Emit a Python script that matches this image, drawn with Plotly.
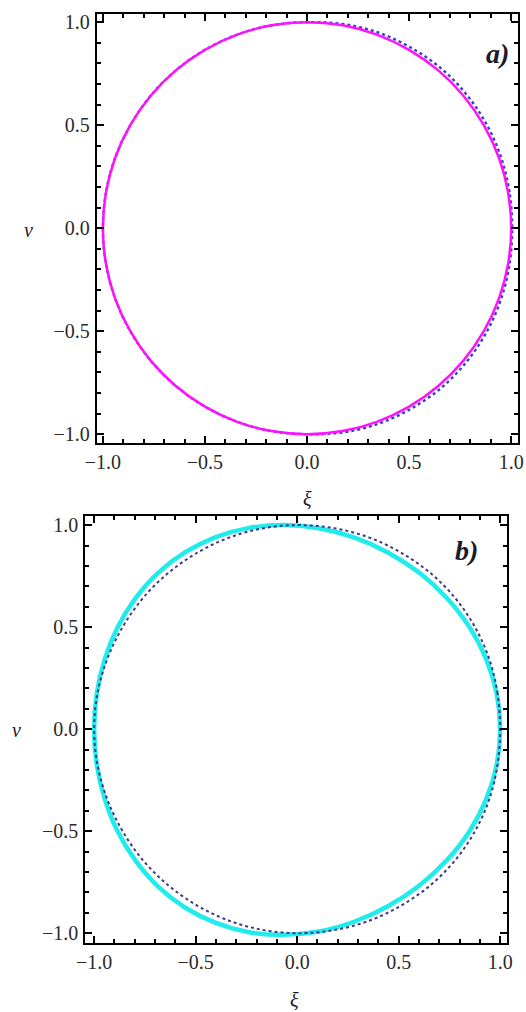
import plotly.graph_objects as go

# panel a) - solid magenta curve and dotted blue reference circle
a_solid_xi = [1.000, 0.985, 0.940, 0.866, 0.766, 0.643, 0.500, 0.342, 0.174, 0.000, -0.174, -0.342, -0.500, -0.643, -0.766, -0.866, -0.940, -0.985, -1.000,
              -0.985, -0.940, -0.866, -0.766, -0.643, -0.500, -0.342, -0.174, 0.000, 0.174, 0.342, 0.500, 0.643, 0.766, 0.866, 0.940, 0.985, 1.000]
a_solid_v = [0.000, 0.174, 0.342, 0.500, 0.643, 0.766, 0.866, 0.940, 0.985, 1.000, 0.985, 0.940, 0.866, 0.766, 0.643, 0.500, 0.342, 0.174, 0.000,
             -0.174, -0.342, -0.500, -0.643, -0.766, -0.866, -0.940, -0.985, -1.000, -0.985, -0.940, -0.866, -0.766, -0.643, -0.500, -0.342, -0.174, 0.000]
a_dot_xi = [1.005, 0.992, 0.950, 0.878, 0.778, 0.654, 0.508, 0.348, 0.177, 0.000, -0.174, -0.342, -0.500, -0.643, -0.766, -0.866, -0.940, -0.985, -1.000,
            -0.985, -0.940, -0.866, -0.766, -0.643, -0.500, -0.342, -0.174, 0.000, 0.177, 0.348, 0.508, 0.654, 0.778, 0.878, 0.950, 0.992, 1.005]
a_dot_v = [0.000, 0.175, 0.346, 0.507, 0.653, 0.778, 0.877, 0.950, 0.991, 1.000, 0.985, 0.940, 0.866, 0.766, 0.643, 0.500, 0.342, 0.174, 0.000,
           -0.174, -0.342, -0.500, -0.643, -0.766, -0.866, -0.940, -0.985, -1.000, -0.991, -0.950, -0.877, -0.778, -0.653, -0.507, -0.346, -0.175, 0.000]

# panel b) - thick cyan curve and dotted dark blue circle
b_solid_xi = [1.000, 0.983, 0.932, 0.849, 0.737, 0.602, 0.447, 0.280, 0.106, -0.070, -0.242, -0.404, -0.553, -0.685, -0.795, -0.884, -0.948, -0.987, -1.000,
              -0.987, -0.948, -0.884, -0.795, -0.685, -0.553, -0.404, -0.242, -0.070, 0.106, 0.280, 0.447, 0.602, 0.737, 0.849, 0.932, 0.983, 1.000]
b_solid_v = [0.000, 0.174, 0.342, 0.500, 0.643, 0.766, 0.866, 0.940, 0.985, 1.000, 0.985, 0.940, 0.866, 0.766, 0.643, 0.500, 0.342, 0.174, 0.000,
             -0.174, -0.342, -0.502, -0.646, -0.772, -0.874, -0.948, -0.994, -1.008, -0.992, -0.944, -0.868, -0.766, -0.643, -0.500, -0.342, -0.174, 0.000]
b_dot_xi = [1.000, 0.987, 0.947, 0.876, 0.778, 0.655, 0.510, 0.352, 0.182, 0.008, -0.164, -0.332, -0.490, -0.634, -0.759, -0.860, -0.936, -0.984, -1.000,
            -0.984, -0.936, -0.860, -0.759, -0.634, -0.490, -0.332, -0.164, 0.008, 0.182, 0.352, 0.510, 0.655, 0.778, 0.876, 0.947, 0.987, 1.000]
b_dot_v = [0.000, 0.174, 0.342, 0.500, 0.643, 0.766, 0.866, 0.940, 0.985, 1.000, 0.985, 0.940, 0.866, 0.766, 0.643, 0.500, 0.342, 0.174, 0.000,
           -0.174, -0.342, -0.500, -0.643, -0.766, -0.866, -0.940, -0.985, -1.000, -0.985, -0.940, -0.866, -0.766, -0.643, -0.500, -0.342, -0.174, 0.000]

tick_vals = [-1.0, -0.5, 0.0, 0.5, 1.0]
tick_text = ["\u22121.0", "\u22120.5", "0.0", "0.5", "1.0"]

serif = "Liberation Serif"

fig = go.Figure()

fig.add_trace(go.Scatter(x=a_dot_xi, y=a_dot_v, mode="lines", line=dict(color="#3b3bd6", width=2.4, dash="dot", shape="spline"),
                         xaxis="x", yaxis="y", showlegend=False))
fig.add_trace(go.Scatter(x=a_solid_xi, y=a_solid_v, mode="lines", line=dict(color="#ff10ff", width=2.5, shape="spline"),
                         xaxis="x", yaxis="y", showlegend=False))
fig.add_trace(go.Scatter(x=b_solid_xi, y=b_solid_v, mode="lines", line=dict(color="#20ecec", width=4.5, shape="spline"),
                         xaxis="x2", yaxis="y2", showlegend=False))
fig.add_trace(go.Scatter(x=b_dot_xi, y=b_dot_v, mode="lines", line=dict(color="#3d3a8a", width=2, dash="dot", shape="spline"),
                         xaxis="x2", yaxis="y2", showlegend=False))


def axis_style(rng, domain, anchor, standoff):
    return dict(range=rng, domain=domain, anchor=anchor, automargin=False,
                showline=True, linecolor="black", linewidth=2, mirror="allticks",
                showgrid=False, zeroline=False,
                ticks="inside", ticklen=7, tickwidth=2, tickcolor="black",
                tickvals=tick_vals, ticktext=tick_text,
                tickfont=dict(family=serif, size=20, color="#2a2a2a"),
                ticklabelstandoff=standoff,
                minor=dict(ticks="inside", ticklen=4, tickwidth=1.5, tickcolor="black", dtick=0.1, tick0=0, showgrid=False))


fig.update_layout(
    width=526, height=1012,
    margin=dict(l=0, r=0, t=0, b=0),
    paper_bgcolor="white", plot_bgcolor="white",
    xaxis=axis_style([-1.03, 1.034], [0.184, 0.985], "y", 0),
    yaxis=axis_style([-1.044, 1.039], [0.562, 0.986], "x", 1),
    xaxis2=axis_style([-1.044, 1.034], [0.162, 0.964], "y2", 0),
    yaxis2=axis_style([-1.049, 1.044], [0.068, 0.490], "x2", 1),
)

labels = [
    ("v", 28, 230, 20, "italic", "normal"),
    ("\u03be", 307, 499, 20, "italic", "normal"),
    ("v", 16, 730, 20, "italic", "normal"),
    ("\u03be", 294, 1000, 20, "italic", "normal"),
    ("a)", 497, 53, 28, "italic", "bold"),
    ("b)", 466, 550, 28, "italic", "bold"),
]
for txt, px, py, size, style, weight in labels:
    fig.add_annotation(x=px / 526, y=1 - py / 1012, xref="paper", yref="paper", text=txt, showarrow=False,
                       xanchor="center", yanchor="middle",
                       font=dict(family=serif, size=size, color="#1a1a2a", style=style, weight=weight))

# page body has a default margin that pushes the figure out of the window
fig.write_html("out.html", config={"displayModeBar": False},
               post_script="document.body.style.margin='0px';")
